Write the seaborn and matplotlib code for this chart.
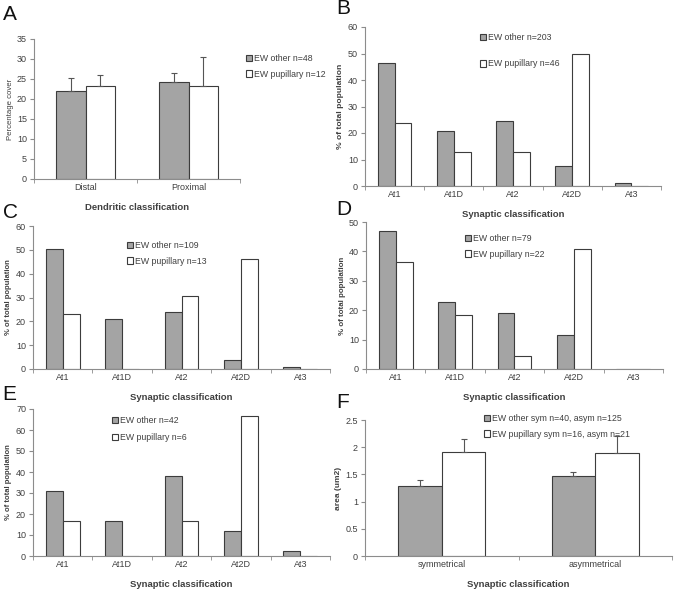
import numpy as np
import pandas as pd
import matplotlib
matplotlib.use("Agg")
import matplotlib.pyplot as plt
import seaborn as sns

# ---- data ----
dend_cats = ["Distal", "Proximal"]
a_other = [22.0, 24.2]
a_other_err = [3.2, 2.3]
a_pupil = [23.2, 23.2]
a_pupil_err = [2.9, 7.2]

syn_cats = ["At1", "At1D", "At2", "At2D", "At3"]
b_other = [46.3, 20.7, 24.6, 7.4, 1.0]
b_pupil = [23.9, 13.0, 13.0, 50.0, 0.0]
c_other = [50.5, 21.1, 23.9, 3.7, 0.9]
c_pupil = [23.1, 0.0, 30.8, 46.2, 0.0]
d_other = [46.8, 22.8, 19.0, 11.4, 0.0]
d_pupil = [36.4, 18.2, 4.5, 40.9, 0.0]
e_other = [31.0, 16.7, 38.1, 11.9, 2.4]
e_pupil = [16.7, 0.0, 16.7, 66.7, 0.0]

sym_cats = ["symmetrical", "asymmetrical"]
f_other = [1.28, 1.47]
f_other_err = [0.12, 0.08]
f_pupil = [1.91, 1.89]
f_pupil_err = [0.24, 0.32]

GRAY = "#a4a4a4"
EDGE = "#3c3c3c"
AXC = "#8c8c8c"
TXT = "#404040"

W, H = 677, 590

sns.set_style("white")
plt.rcParams["font.family"] = ["Liberation Sans", "DejaVu Sans"]

fig = plt.figure(figsize=(W / 100, H / 100), dpi=100)


def px_axes(l, t, r, b):
    return fig.add_axes([l / W, 1 - b / H, (r - l) / W, (b - t) / H])


def draw_panel(rect, letter, letter_xy, cats, other, pupil, labels, ymax,
               ystep, ylabel, ylab_size, xlabel, leg_xy, leg_space=0.6,
               other_err=None, pupil_err=None, ylab_bold=True):
    ax = px_axes(*rect)
    df = pd.DataFrame({
        "cat": cats * 2,
        "val": list(other) + list(pupil),
        "grp": [labels[0]] * len(cats) + [labels[1]] * len(cats),
    })
    sns.barplot(data=df, x="cat", y="val", hue="grp", order=cats,
                hue_order=labels, palette=[GRAY, "white"], edgecolor=EDGE,
                linewidth=0.8, width=0.57, errorbar=None, saturation=1,
                ax=ax)

    if other_err is not None:
        for cont, vals, errs in zip(ax.containers, [other, pupil],
                                    [other_err, pupil_err]):
            xs = [p.get_x() + p.get_width() / 2 for p in cont.patches]
            ax.errorbar(xs, vals, yerr=[np.zeros(len(errs)), errs], fmt="none",
                        ecolor="#555555", elinewidth=0.8, capsize=2.2,
                        capthick=0.8, zorder=1)

    n = len(cats)
    ax.set_xlim(-0.5, n - 0.5)
    ax.set_ylim(0, ymax)
    yt = np.arange(0, ymax + ystep / 2, ystep)
    ax.set_yticks(yt)
    ax.set_yticklabels(["{:g}".format(round(v, 2)) for v in yt])
    ax.set_xticks(np.arange(-0.5, n, 1.0), minor=True)
    ax.tick_params(axis="x", which="major", length=0, labelsize=6.5,
                   labelcolor=TXT, pad=3)
    ax.tick_params(axis="x", which="minor", length=3, color=AXC,
                   direction="out", bottom=True)
    ax.tick_params(axis="y", length=3, color=AXC, direction="out",
                   labelsize=6.5, labelcolor=TXT, pad=2, left=True)
    for s in ["top", "right"]:
        ax.spines[s].set_visible(False)
    for s in ["left", "bottom"]:
        ax.spines[s].set_color(AXC)
        ax.spines[s].set_linewidth(0.8)

    ax.set_ylabel(ylabel, fontsize=ylab_size, color=TXT,
                  fontweight="bold" if ylab_bold else "normal", labelpad=2.5)
    ax.set_xlabel(xlabel, fontsize=6.8, color=TXT, fontweight="bold",
                  labelpad=8)

    leg = ax.legend(loc="upper left",
                    bbox_to_anchor=(leg_xy[0] / W, 1 - leg_xy[1] / H),
                    bbox_transform=fig.transFigure, frameon=False,
                    fontsize=6.3, handlelength=0.7, handleheight=0.7,
                    handletextpad=0.2, labelspacing=leg_space,
                    borderpad=0, borderaxespad=0)
    for t in leg.get_texts():
        t.set_color(TXT)

    fig.text(letter_xy[0] / W, 1 - letter_xy[1] / H, letter,
             fontsize=15, va="center", ha="left", color="#111111")
    return ax


draw_panel((34, 39, 240, 179), "A", (3, 15), dend_cats, a_other, a_pupil,
           ["EW other n=48", "EW pupillary n=12"], 35, 5,
           "Percentage cover", 5.6, "Dendritic classification", (246, 54),
           leg_space=0.75, other_err=a_other_err, pupil_err=a_pupil_err,
           ylab_bold=False)

draw_panel((365, 27, 661, 186), "B", (336, 9), syn_cats, b_other, b_pupil,
           ["EW other n=203", "EW pupillary n=46"], 60, 10,
           "% of total population", 6.1, "Synaptic classification", (480, 33),
           leg_space=2.0)

draw_panel((33, 226, 330, 369), "C", (3, 213), syn_cats, c_other, c_pupil,
           ["EW other n=109", "EW pupillary n=13"], 60, 10,
           "% of total population", 5.5, "Synaptic classification", (127, 241),
           leg_space=0.75)

draw_panel((366, 222, 663, 369), "D", (336, 210), syn_cats, d_other, d_pupil,
           ["EW other n=79", "EW pupillary n=22"], 50, 10,
           "% of total population", 5.7, "Synaptic classification", (465, 234),
           leg_space=0.75)

draw_panel((33, 409, 330, 556), "E", (2, 395), syn_cats, e_other, e_pupil,
           ["EW other n=42", "EW pupillary n=6"], 70, 10,
           "% of total population", 5.5, "Synaptic classification", (112, 416),
           leg_space=0.9)

draw_panel((365, 420, 672, 556), "F", (336, 402), sym_cats, f_other, f_pupil,
           ["EW other sym n=40, asym n=125", "EW pupillary sym n=16, asym n=21"],
           2.5, 0.5, "area (um2)", 6.0, "Synaptic classification", (484, 414),
           leg_space=0.75, other_err=f_other_err, pupil_err=f_pupil_err)

fig.savefig("out.png", dpi=100)
